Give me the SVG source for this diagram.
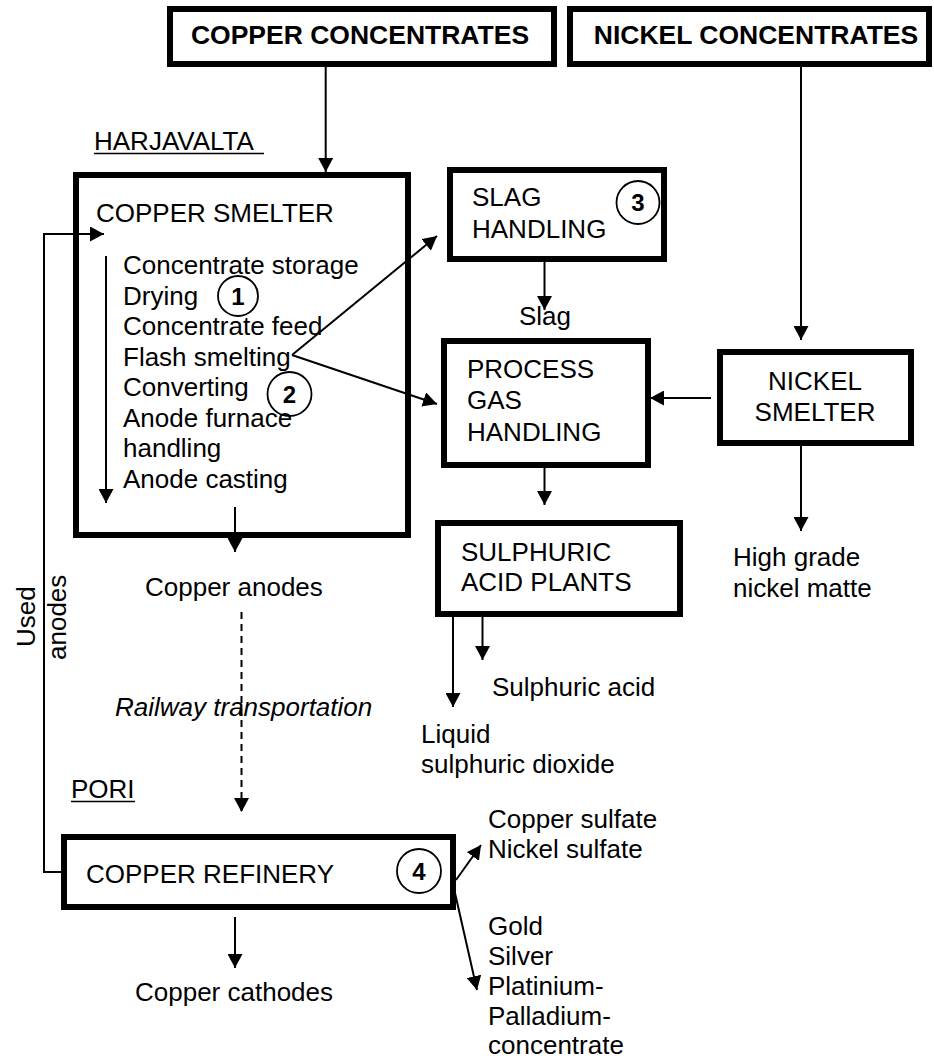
<svg xmlns="http://www.w3.org/2000/svg" width="934" height="1059" viewBox="0 0 934 1059">
<style>
.box{fill:#fff;stroke:#000;stroke-width:6}
.t{font-family:"Liberation Sans",Arial,sans-serif;font-size:26px;fill:#000}
.b{font-family:"Liberation Sans",Arial,sans-serif;font-size:26.5px;font-weight:bold;fill:#000}
.n{font-family:"Liberation Sans",Arial,sans-serif;font-size:24px;font-weight:bold;fill:#000}
.c{fill:none;stroke:#000;stroke-width:2}
.ln{fill:none;stroke:#000;stroke-width:2;marker-end:url(#ah)}
.circ{fill:none;stroke:#000;stroke-width:1.8}
</style>
<defs>
<marker id="ah" markerUnits="userSpaceOnUse" markerWidth="15" markerHeight="15" refX="14" refY="7.5" orient="auto">
<path d="M0,0 L14,7.5 L0,15 z" fill="#000"/>
</marker>
</defs>
<rect width="934" height="1059" fill="#fff"/>

<g id="copper-concentrates">
<rect class="box" x="170" y="9" width="384" height="55"/>
<text class="b" x="360" y="44" text-anchor="middle">COPPER CONCENTRATES</text>
</g>
<g id="nickel-concentrates">
<rect class="box" x="570" y="9" width="359" height="55"/>
<text class="b" x="756" y="44" text-anchor="middle">NICKEL CONCENTRATES</text>
</g>

<g id="labels">
<text class="t" x="94" y="150">HARJAVALTA</text>
<line x1="94" y1="153.5" x2="264" y2="153.5" stroke="#000" stroke-width="1.6"/>
<text class="t" x="71" y="798">PORI</text>
<line x1="71" y1="801.5" x2="135" y2="801.5" stroke="#000" stroke-width="1.6"/>
<text class="t" transform="translate(35,647) rotate(-90)">Used</text>
<text class="t" transform="translate(66,660) rotate(-90)">anodes</text>
<text class="t" x="145" y="596">Copper anodes</text>
<text class="t" x="115" y="716" font-style="italic">Railway transportation</text>
<text class="t" x="519" y="325">Slag</text>
<text class="t" x="733" y="566">High grade</text>
<text class="t" x="733" y="597">nickel matte</text>
<text class="t" x="492" y="696">Sulphuric acid</text>
<text class="t" x="421" y="743">Liquid</text>
<text class="t" x="421" y="773">sulphuric dioxide</text>
<text class="t" x="135" y="1001">Copper cathodes</text>
<text class="t" x="488" y="828">Copper sulfate</text>
<text class="t" x="488" y="858">Nickel sulfate</text>
<text class="t" x="488" y="935">Gold</text>
<text class="t" x="488" y="965">Silver</text>
<text class="t" x="488" y="995">Platinium-</text>
<text class="t" x="488" y="1025">Palladium-</text>
<text class="t" x="488" y="1054">concentrate</text>
</g>

<g id="copper-smelter">
<rect class="box" x="76" y="175" width="332" height="360"/>
<text class="t" x="96" y="222" font-size="23.5">COPPER SMELTER</text>
<text class="t" x="123" y="274">Concentrate storage</text>
<text class="t" x="123" y="305">Drying</text>
<text class="t" x="123" y="335">Concentrate feed</text>
<text class="t" x="123" y="366">Flash smelting</text>
<text class="t" x="123" y="396">Converting</text>
<text class="t" x="123" y="427">Anode furnace</text>
<text class="t" x="123" y="457">handling</text>
<text class="t" x="123" y="488">Anode casting</text>
<circle class="circ" cx="238" cy="296" r="20"/>
<text class="n" x="238" y="304.5" text-anchor="middle">1</text>
<circle class="circ" cx="289.5" cy="394" r="22"/>
<text class="n" x="289.5" y="402.5" text-anchor="middle">2</text>
</g>

<g id="slag-handling">
<rect class="box" x="450" y="170" width="214" height="89"/>
<text class="t" x="472" y="206">SLAG</text>
<text class="t" x="472" y="238">HANDLING</text>
<circle class="circ" cx="638" cy="202.5" r="21.5"/>
<text class="n" x="638" y="211" text-anchor="middle">3</text>
</g>

<g id="process-gas-handling">
<rect class="box" x="444" y="341" width="204" height="124"/>
<text class="t" x="467" y="378">PROCESS</text>
<text class="t" x="467" y="409">GAS</text>
<text class="t" x="467" y="441">HANDLING</text>
</g>

<g id="nickel-smelter">
<rect class="box" x="720" y="352" width="191" height="91"/>
<text class="t" x="815" y="390" text-anchor="middle">NICKEL</text>
<text class="t" x="815" y="421" text-anchor="middle">SMELTER</text>
</g>

<g id="sulphuric-acid-plants">
<rect class="box" x="438" y="523" width="242" height="91"/>
<text class="t" x="461" y="561">SULPHURIC</text>
<text class="t" x="461" y="591">ACID PLANTS</text>
</g>

<g id="copper-refinery">
<rect class="box" x="64" y="837" width="389" height="70"/>
<text class="t" x="86" y="883">COPPER REFINERY</text>
<circle class="circ" cx="419" cy="871" r="22"/>
<text class="n" x="419" y="879.5" text-anchor="middle">4</text>
</g>

<g id="connectors">
<line class="ln" x1="325.7" y1="67" x2="325.7" y2="172"/>
<line class="ln" x1="801" y1="67" x2="801" y2="340"/>
<line class="ln" x1="106" y1="256" x2="106" y2="503"/>
<path class="ln" d="M61,872 H44 V234 H104"/>
<line class="ln" x1="292" y1="355" x2="437" y2="236"/>
<line class="ln" x1="292" y1="355" x2="437" y2="404"/>
<line class="ln" x1="544.5" y1="262" x2="544.5" y2="310"/>
<line class="ln" x1="711" y1="398" x2="650" y2="398"/>
<line class="ln" x1="544.5" y1="468" x2="544.5" y2="505"/>
<line class="ln" x1="801" y1="446" x2="801" y2="531"/>
<line class="ln" x1="453" y1="617" x2="453" y2="707"/>
<line class="ln" x1="482.5" y1="617" x2="482.5" y2="660"/>
<line class="ln" x1="235" y1="507" x2="235" y2="552"/>
<line class="ln" x1="241.5" y1="612" x2="241.5" y2="812" stroke-dasharray="7,5" stroke-width="1.6"/>
<line class="ln" x1="235" y1="917" x2="235" y2="968"/>
<line class="ln" x1="456" y1="880" x2="481" y2="845"/>
<line class="ln" x1="455" y1="893" x2="477" y2="990"/>
</g>
</svg>
